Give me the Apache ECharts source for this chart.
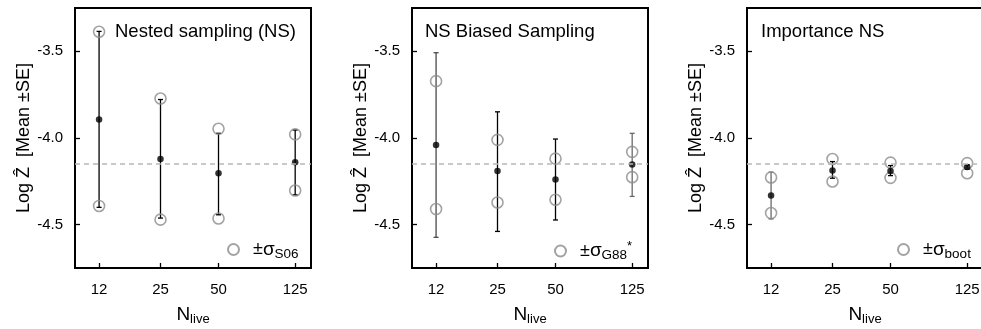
<!DOCTYPE html>
<html><head><meta charset="utf-8">
<script src="https://cdn.jsdelivr.net/npm/echarts@6/dist/echarts.min.js"></script>
<style>html,body{margin:0;padding:0;background:#fff}#c{width:981px;height:329px}</style>
</head><body><div id="c"></div>
<script>
// ---------- data ----------
const nLive = [12, 25, 50, 125];
const yTickValues = [-4.5, -4.0, -3.5];
const trueLogZ = -4.153;
const panelTitles = ['Nested sampling (NS)', 'NS Biased Sampling', 'Importance NS'];
const legendNames = ['±σS06', '±σG88*', '±σboot'];

// Panel 1: Nested sampling (NS)
const ns_mean    = [-3.893, -4.121, -4.203, -4.140];
const ns_seLow   = [-4.400, -4.462, -4.443, -4.328];
const ns_seHigh  = [-3.385, -3.778, -3.973, -3.954];
const ns_sigLow  = [-4.392, -4.471, -4.464, -4.303];
const ns_sigHigh = [-3.387, -3.772, -3.947, -3.979];

// Panel 2: NS Biased Sampling
const bs_mean    = [-4.040, -4.191, -4.240, -4.153];
const bs_seLow   = [-4.573, -4.539, -4.473, -4.337];
const bs_seHigh  = [-3.508, -3.849, -4.006, -3.973];
const bs_sigLow  = [-4.410, -4.372, -4.356, -4.226];
const bs_sigHigh = [-3.672, -4.011, -4.119, -4.080];

// Panel 3: Importance NS
const is_mean    = [-4.332, -4.188, -4.190, -4.168];
const is_seLow   = [-4.467, -4.232, -4.217, -4.180];
const is_seHigh  = [-4.197, -4.136, -4.159, -4.155];
const is_sigLow  = [-4.433, -4.251, -4.230, -4.203];
const is_sigHigh = [-4.228, -4.121, -4.142, -4.145];

// ---------- styling / layout ----------
const FONT = '"Liberation Sans", Arial, Helvetica, sans-serif';
const panels = [
  {mean: ns_mean, seLow: ns_seLow, seHigh: ns_seHigh, sigLow: ns_sigLow, sigHigh: ns_sigHigh},
  {mean: bs_mean, seLow: bs_seLow, seHigh: bs_seHigh, sigLow: bs_sigLow, sigHigh: bs_sigHigh},
  {mean: is_mean, seLow: is_seLow, seHigh: is_seHigh, sigLow: is_sigLow, sigHigh: is_sigHigh}
];
const gridLefts = [75, 412, 747];
const titleLefts = [115, 425, 761];
const legendLefts = [227, 554, 897];
const barColors = [['#000','#000','#000','#000'], ['#4a4a4a','#000','#000','#6a6a6a'], ['#6a6a6a','#000','#000','#000']];
const X_MIN = 9, X_MAX = 151;
const legendRich = {
  '±σS06': '{pm|±}{sg|σ}{sub|S06}',
  '±σG88*': '{pm|±}{sg|σ}{sub|G88}{sup|*}',
  '±σboot': '{pm|±}{sg|σ}{sub|boot}'
};

const grid = [], xAxis = [], yAxis = [], series = [], title = [], legend = [];
panels.forEach((p, i) => {
  grid.push({left: gridLefts[i], top: 8, width: 236, height: 260, show: true,
    containLabel: false, outerBoundsMode: 'none',
    borderColor: '#000', borderWidth: 2, backgroundColor: 'transparent'});
  // data axis (log)
  xAxis.push({type: 'log', gridIndex: i, position: 'bottom', min: X_MIN, max: X_MAX, logBase: 10,
    axisLine: {show: false}, axisTick: {show: false}, axisLabel: {show: false}, splitLine: {show: false}});
  // tick / label axis in log10 space
  const tv = nLive.map(n => Math.log10(n));
  xAxis.push({type: 'value', gridIndex: i, position: 'bottom', min: Math.log10(X_MIN), max: Math.log10(X_MAX),
    axisLine: {show: false}, splitLine: {show: false},
    axisTick: {show: true, inside: true, length: 5, customValues: tv, lineStyle: {color: '#000', width: 1.3}},
    axisLabel: {customValues: tv, margin: 14, fontSize: 15, color: '#000', fontFamily: FONT,
      formatter: v => String(Math.round(Math.pow(10, v)))},
    name: '{n|N}{s|live}', nameLocation: 'middle', nameGap: 36,
    nameTextStyle: {color: '#000', fontFamily: FONT, rich: {
      n: {fontSize: 19, fontFamily: FONT, color: '#000'},
      s: {fontSize: 13, fontFamily: FONT, color: '#000', padding: [9, 0, 0, 0]}
    }}
  });
  yAxis.push({type: 'value', gridIndex: i, position: 'left', min: -4.75, max: -3.25,
    axisLine: {show: false}, splitLine: {show: false},
    axisTick: {show: true, inside: true, length: 5, customValues: yTickValues, lineStyle: {color: '#000', width: 1.3}},
    axisLabel: {customValues: yTickValues, margin: 12, fontSize: 15, color: '#000', fontFamily: FONT,
      formatter: v => v.toFixed(1)},
    name: 'Log Ẑ  [Mean ±SE]', nameLocation: 'middle', nameGap: 39,
    nameTextStyle: {fontSize: 18, color: '#000', fontFamily: FONT}
  });
  title.push({text: panelTitles[i], left: titleLefts[i], top: 22, padding: 0,
    textStyle: {fontSize: 18.5, fontWeight: 'normal', color: '#000', fontFamily: FONT}});
  legend.push({data: [legendNames[i]], left: legendLefts[i], top: 240, padding: 0,
    icon: 'circle', itemWidth: 11, itemHeight: 11,
    formatter: name => legendRich[name],
    textStyle: {color: '#000', fontFamily: FONT, rich: {
      pm: {fontSize: 18, fontFamily: FONT, color: '#000', padding: [0, 0, 0, 9]},
      sg: {fontSize: 19, fontFamily: FONT, color: '#000'},
      sub: {fontSize: 13.5, fontFamily: FONT, color: '#000', padding: [9, 0, 0, 0]},
      sup: {fontSize: 13, fontFamily: FONT, color: '#000', padding: [0, 0, 9, 0]}
    }}
  });

  const xi = 2 * i;
  series.push({
    type: 'custom', xAxisIndex: xi, yAxisIndex: i, z: 2,
    encode: {x: 0, y: [1, 2]},
    data: nLive.map((n, k) => [n, p.seLow[k], p.seHigh[k]]),
    renderItem: (params, api) => {
      const x = api.value(0);
      const top = api.coord([x, api.value(2)]);
      const bot = api.coord([x, api.value(1)]);
      const st = {stroke: barColors[i][params.dataIndex], lineWidth: 1.3};
      const hw = 2.5;
      return {type: 'group', children: [
        {type: 'line', shape: {x1: top[0], y1: top[1], x2: bot[0], y2: bot[1]}, style: st},
        {type: 'line', shape: {x1: top[0] - hw, y1: top[1], x2: top[0] + hw, y2: top[1]}, style: st},
        {type: 'line', shape: {x1: bot[0] - hw, y1: bot[1], x2: bot[0] + hw, y2: bot[1]}, style: st}
      ]};
    }
  });
  series.push({
    type: 'scatter', name: legendNames[i], xAxisIndex: xi, yAxisIndex: i, z: 3,
    symbol: 'circle', symbolSize: 11,
    itemStyle: {color: 'rgba(0,0,0,0)', borderColor: '#8c8c8c', borderWidth: 1.6},
    data: nLive.flatMap((n, k) => [[n, p.sigLow[k]], [n, p.sigHigh[k]]])
  });
  series.push({
    type: 'scatter', name: 'mean' + i, xAxisIndex: xi, yAxisIndex: i, z: 4,
    symbol: 'circle', symbolSize: 6.5, itemStyle: {color: '#000'},
    data: nLive.map((n, k) => [n, p.mean[k]]),
    markLine: {silent: true, symbol: ['none', 'none'], label: {show: false},
      lineStyle: {type: [5, 4], color: '#b8b8b8', width: 1.5},
      data: [{yAxis: trueLogZ}]}
  });
});

const chart = echarts.init(document.getElementById('c'), null, {renderer: 'canvas'});
chart.setOption({animation: false, backgroundColor: '#fff', grid, xAxis, yAxis, series, title, legend});
</script></body></html>
